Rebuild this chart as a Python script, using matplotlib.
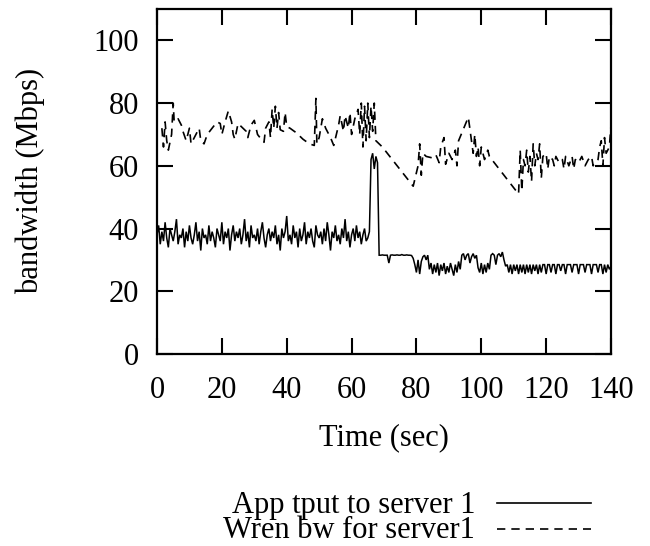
import numpy as np
import matplotlib
matplotlib.use("Agg")
import matplotlib.pyplot as plt
from matplotlib.lines import Line2D

plt.rcParams['font.family'] = ['Liberation Serif', 'DejaVu Serif']

# ---------------- data ----------------
# App throughput to server 1, sampled every 0.5 s from 0 to 140 s
tput_phase1 = [
    38, 41, 35, 39, 36, 42, 37, 34, 40, 38,
    36, 39, 43, 35, 38, 37, 40, 34, 39, 36,
    41, 37, 35, 38, 42, 36, 39, 33, 40, 37,
    38, 35, 41, 36, 39, 37, 34, 40, 38, 36,
    42, 35, 39, 37, 40, 33, 38, 41, 36, 39,
    37, 40, 35, 38, 43, 36, 39, 34, 41, 37,
    38, 36, 40, 35, 39, 42, 37, 34, 38, 40,
    36, 39, 37, 41, 35, 38, 33, 40, 37, 39,
    44, 36, 38, 35, 41, 37, 39, 34, 40, 36,
    38, 42, 35, 39, 37, 40, 36, 34, 41, 38,
    37, 39, 35, 40, 36, 42, 38, 33, 39, 37,
    41, 36, 38, 35, 40, 37, 43, 36, 39, 34,
    38, 40, 36, 41, 37, 39, 35, 38, 40, 36,
    37, 39,
]
tput_spike = [62, 64, 59, 63, 61]
tput_flat = [31.5, 31.5, 31.6, 31.5, 31.5, 31.5, 29.0, 31.5, 31.6, 31.5,
             31.5, 31.6, 31.5, 31.5, 31.7, 31.5, 31.5, 31.6, 31.5, 31.5,
             31.4, 30.5, 28.5]
tput_phase2 = [
    26, 30, 25.5, 29.5,
    31, 31.5, 30, 31.5,
    27, 29, 25.5, 28.5, 26, 29, 25, 28.5, 26.5, 29,
    25.5, 28, 26, 29, 27, 25, 28.5, 26, 29.5, 27,
    31.5, 32, 30, 31.5, 32, 29, 31, 32, 30.5, 31.5, 27.5,
    26, 29, 25.5, 28.5, 26, 29, 27,
    31.5, 32, 31.5, 28.5, 31.5, 32, 31, 32.5, 30, 28,
    28.5, 26, 28.5, 25.5, 28.5, 26.5, 28.5, 25.5, 28.5, 26,
    28.5, 25.5, 28.5, 26, 28.5, 25.5, 28.5, 26.5, 28.5, 25.5,
    28.5, 26, 28.5, 28.5, 25.5, 28.5, 28.5, 26, 28.5, 28.5,
    25.5, 28.5, 28.5, 26.5, 28.5, 28.5, 25.5, 28.5, 28.5, 28.5,
    26, 28.5, 28.5, 28.5, 25.5, 28.5, 28.5, 28.5, 26, 28.5,
    28.5, 28.5, 25.5, 28.5, 28.5, 28.5, 26, 28.5, 28.5, 25.5,
    28.5, 26, 28.5, 27, 28,
]
tput_values = tput_phase1 + tput_spike + tput_flat + tput_phase2
tput_time = np.arange(len(tput_values)) * 0.5

# Wren bandwidth estimate for server 1
wren_time = [
    1.5, 2, 2.5, 3, 3.5, 4.5, 5, 5.3, 6.5, 7.5, 8, 9, 10, 10.5, 12, 13, 13.5,
    14.5, 15.5, 17, 18.5, 19.5, 20, 21, 22, 23, 23.5, 24, 25, 26.5, 27.5, 28,
    29, 30, 31, 32.5, 33, 33.5, 34.5, 35, 35.5, 36, 36.5, 37, 37.5, 38, 39,
    39.5, 40, 41, 43, 45, 47, 48.5, 49, 49.3, 50, 51, 52, 53.5, 54.5, 56, 56.5,
    57.5, 58, 59, 59.5, 60, 61, 62, 62.5, 63, 63.5, 64, 64.5, 65, 65.5, 66,
    66.5, 67, 67.5, 68, 69.5, 79, 80.5, 81, 81.5, 82, 83, 85, 86, 87, 87.5,
    88.5, 89, 90, 91, 92, 92.5, 93, 96, 97.5, 98, 98.5, 99, 99.5, 100, 101,
    102, 102.5, 111.5, 112, 112.5, 113, 113.5, 114, 114.5, 115, 115.5, 116,
    116.5, 117, 117.5, 118, 118.5, 119, 120, 120.5, 121, 122, 122.5, 123, 124,
    125, 125.5, 126, 127, 128, 128.5, 129, 130, 131, 132, 133, 134, 134.5, 135,
    136, 136.5, 137, 137.5, 138, 138.5, 139, 139.5, 140,
]
wren_values = [
    72, 66, 74, 68, 65, 70, 80, 74, 75, 73, 71, 68, 72, 67, 70, 72, 68,
    67, 70, 72, 74, 73.5, 70, 74, 77.5, 74, 70, 68.5, 73.5, 72, 71, 69,
    73, 74.5, 70, 68, 67.5, 72, 74, 69, 78, 72, 79, 72, 77, 71.5, 71,
    77, 72.5, 72, 70.5, 68.5, 67, 66.5, 81.5, 67, 69, 75, 72, 69, 66.5, 73, 76,
    71, 76, 72, 77, 70, 75, 78, 70, 80, 66, 79, 68, 80, 69, 79,
    71, 80, 68, 67.5, 66, 53.5, 60, 67, 57, 64, 63, 62.5, 63.5, 61, 66,
    69, 60.5, 64, 62, 65, 60, 68, 75.5, 64, 70, 63, 66, 60, 66, 62,
    65, 63, 51, 65, 52, 62, 60, 65, 58, 63, 55, 67,
    60, 64, 62, 67, 56, 63, 64, 59, 63, 62, 60, 63, 61,
    62, 59, 63, 60, 63, 59, 62, 61, 63, 60, 62, 63, 60, 61,
    62, 66, 68, 60, 69, 64, 65, 66, 73,
]

x_ticks = [0, 20, 40, 60, 80, 100, 120, 140]
y_ticks = [0, 20, 40, 60, 80, 100]
labels = ["App tput to server 1", "Wren bw for server1"]

# ---------------- figure ----------------
W, H = 650, 546
fig = plt.figure(figsize=(W / 100, H / 100), dpi=100)
ax = fig.add_axes([157 / W, 1 - 354 / H, (611 - 157) / W, (354 - 9) / H])

FS = 22
DASH = (5, 3.6)
ax.plot(tput_time, tput_values, color='black', lw=1.1, solid_joinstyle='miter')
wl, = ax.plot(wren_time, wren_values, color='black', lw=1.2)
wl.set_dashes(DASH)

ax.set_xlim(0, 140)
ax.set_ylim(0, 110)
ax.set_xticks(x_ticks)
ax.set_yticks(y_ticks)
ax.tick_params(direction='in', length=11.5, width=1.5, labelsize=FS,
               top=True, right=True)
ax.tick_params(axis='x', pad=15.5)
ax.tick_params(axis='y', pad=13)
for sp in ax.spines.values():
    sp.set_linewidth(1.6)

fig.text(384 / W, 1 - 438 / H, "Time (sec)", ha='center', va='center', fontsize=FS)
fig.text(30 / W, 1 - 181 / H, "bandwidth (Mbps)", ha='center', va='center',
         rotation=90, fontsize=FS)

# legend (gnuplot style: right-aligned text followed by a line sample)
fig.text(475 / W, 1 - 545.5 / H, "\n".join(labels), ha='right', va='bottom',
         multialignment='right', linespacing=0.84, fontsize=FS)
fig.add_artist(Line2D([497 / W, 591 / W], [1 - 503 / H, 1 - 503 / H],
                      transform=fig.transFigure, color='black', lw=1.2))
fig.add_artist(Line2D([497 / W, 591 / W], [1 - 529 / H, 1 - 529 / H],
                      transform=fig.transFigure, color='black', lw=1.2,
                      ls=(0, DASH)))

fig.savefig("out.png", dpi=100)
